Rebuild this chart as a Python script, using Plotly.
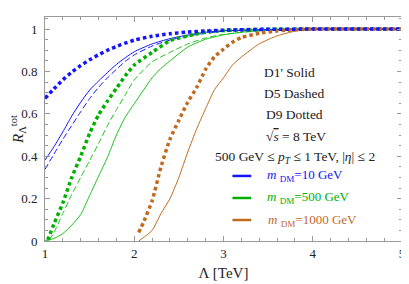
import plotly.graph_objects as go

# ---------------- data ----------------
# Blue: m_DM = 10 GeV
blue_solid_x = [1.0, 1.1, 1.2, 1.3, 1.4, 1.5, 1.6, 1.7, 1.8, 1.9, 2.0, 2.2, 2.4, 2.6, 2.8, 3.0, 3.5, 4.0, 5.0]
blue_solid_y = [0.382, 0.445, 0.515, 0.59, 0.655, 0.712, 0.755, 0.795, 0.833, 0.865, 0.893, 0.93, 0.955, 0.972, 0.985, 0.992, 0.998, 1.0, 1.0]
blue_dash_x = [1.0, 1.1, 1.2, 1.3, 1.4, 1.5, 1.6, 1.7, 1.8, 1.9, 2.0, 2.2, 2.4, 2.6, 2.8, 3.0, 3.5, 4.0, 5.0]
blue_dash_y = [0.338, 0.41, 0.48, 0.545, 0.61, 0.672, 0.725, 0.77, 0.81, 0.848, 0.878, 0.92, 0.948, 0.967, 0.98, 0.99, 0.998, 1.0, 1.0]
blue_dot_x = [1.0, 1.1, 1.2, 1.3, 1.4, 1.5, 1.6, 1.7, 1.8, 1.9, 2.0, 2.2, 2.4, 2.6, 2.8, 3.0, 3.5, 4.0, 5.0]
blue_dot_y = [0.673, 0.718, 0.76, 0.797, 0.828, 0.855, 0.879, 0.9, 0.918, 0.934, 0.948, 0.966, 0.978, 0.986, 0.991, 0.995, 0.999, 1.0, 1.0]

# Green: m_DM = 500 GeV
green_solid_x = [1.0, 1.1, 1.2, 1.3, 1.4, 1.5, 1.6, 1.7, 1.8, 1.9, 2.0, 2.1, 2.2, 2.3, 2.4, 2.6, 2.8, 3.0, 3.2, 3.5, 4.0, 5.0]
green_solid_y = [0.0, 0.012, 0.035, 0.075, 0.125, 0.215, 0.305, 0.395, 0.5, 0.585, 0.648, 0.71, 0.77, 0.815, 0.85, 0.915, 0.952, 0.973, 0.985, 0.995, 1.0, 1.0]
green_dash_x = [1.05, 1.1, 1.2, 1.3, 1.4, 1.5, 1.6, 1.7, 1.8, 1.9, 2.0, 2.2, 2.4, 2.6, 2.8, 3.0, 3.5, 4.0, 5.0]
green_dash_y = [0.005, 0.04, 0.13, 0.22, 0.3, 0.38, 0.46, 0.545, 0.62, 0.69, 0.76, 0.845, 0.89, 0.93, 0.958, 0.975, 0.995, 1.0, 1.0]
green_dot_x = [1.03, 1.1, 1.2, 1.3, 1.4, 1.5, 1.6, 1.7, 1.8, 1.9, 2.0, 2.2, 2.4, 2.6, 2.8, 3.0, 3.5, 4.0, 5.0]
green_dot_y = [0.005, 0.08, 0.18, 0.3, 0.4, 0.508, 0.595, 0.66, 0.72, 0.78, 0.83, 0.89, 0.945, 0.968, 0.985, 0.993, 0.999, 1.0, 1.0]

# Brown: m_DM = 1000 GeV
brown_solid_x = [2.05, 2.1, 2.2, 2.3, 2.4, 2.5, 2.6, 2.7, 2.8, 2.9, 3.0, 3.1, 3.2, 3.4, 3.6, 3.8, 4.0, 4.5, 5.0]
brown_solid_y = [0.0, 0.015, 0.05, 0.13, 0.2, 0.3, 0.42, 0.53, 0.625, 0.715, 0.77, 0.83, 0.868, 0.93, 0.968, 0.99, 0.998, 1.0, 1.0]
brown_dot_x = [2.05, 2.1, 2.2, 2.3, 2.4, 2.5, 2.6, 2.7, 2.8, 2.9, 3.0, 3.1, 3.2, 3.4, 3.6, 3.8, 4.0, 4.5, 5.0]
brown_dot_y = [0.04, 0.085, 0.19, 0.35, 0.48, 0.57, 0.655, 0.725, 0.81, 0.87, 0.905, 0.938, 0.96, 0.98, 0.991, 0.997, 1.0, 1.0, 1.0]

x_ticks = [1, 2, 3, 4, 5]
y_ticks = [0, 0.2, 0.4, 0.6, 0.8, 1]
y_tick_labels = ["0", "0.2", "0.4", "0.6", "0.8", "1"]

BLUE = "#1414ff"
GREEN = "#22c022"
GREEN_DOT = "#00b000"
BROWN = "#bf6a1f"
FONT = "Liberation Serif"
TXT = "#222222"

fig = go.Figure()

def add(x, y, color, width, dash):
    fig.add_trace(go.Scatter(x=x, y=y, mode="lines", showlegend=False,
                             line=dict(color=color, width=width, dash=dash, shape="spline", smoothing=0.6),
                             hoverinfo="skip"))

add(green_solid_x, green_solid_y, GREEN, 1, "solid")
add(green_dash_x, green_dash_y, GREEN, 1, "6px,3px")
add(brown_solid_x, brown_solid_y, BROWN, 1, "solid")
add(blue_solid_x, blue_solid_y, BLUE, 1, "solid")
add(blue_dash_x, blue_dash_y, BLUE, 1, "6px,3px")
add(green_dot_x, green_dot_y, GREEN_DOT, 3.5, "3.5px,3px")
add(brown_dot_x, brown_dot_y, BROWN, 3.5, "3.5px,3px")
add(blue_dot_x, blue_dot_y, BLUE, 3.5, "3.5px,3px")

axis_common = dict(
    showgrid=False, zeroline=False, showline=True, linecolor="#999999", linewidth=1,
    mirror="ticks", ticks="inside", ticklen=5, tickcolor="#999999", tickwidth=1,
    tickfont=dict(family=FONT, size=13, color=TXT), ticklabeloverflow="allow",
)

fig.update_xaxes(range=[1, 5], tickvals=x_ticks, ticktext=[str(v) for v in x_ticks],
                 minor=dict(dtick=0.2, ticks="inside", ticklen=3, tickcolor="#999999", showgrid=False),
                 title=dict(text="Λ [TeV]", font=dict(family=FONT, size=15, color=TXT), standoff=7),
                 automargin=True, **axis_common)
fig.update_yaxes(range=[0, 1.057], tickvals=y_ticks, ticktext=y_tick_labels,
                 minor=dict(dtick=0.05, ticks="inside", ticklen=3, tickcolor="#999999", showgrid=False),
                 ticklabelstandoff=4, automargin=False,
                 title=dict(text="<i>R</i><sub>Λ</sub><sup>tot</sup>", font=dict(family=FONT, size=15, color=TXT), standoff=11),
                 **axis_common)

tf = dict(family=FONT, size=13.5, color=TXT)
texts = [
    (3.74, 0.797, "D1' Solid"),
    (3.79, 0.698, "D5 Dashed"),
    (3.79, 0.599, "D9 Dotted"),
    (3.81, 0.495, "√<span style='text-decoration:overline'><i>s</i></span> = 8 TeV"),
    (3.80, 0.396, "500 GeV ≤ <i>p</i><sub><i>T</i></sub> ≤ 1 TeV, |<i>η</i>| ≤ 2"),
]
for x, y, t in texts:
    fig.add_annotation(x=x, y=y, text=t, showarrow=False, font=tf, xanchor="center", yanchor="middle")

legend_items = [
    (0.307, 3.91, BLUE, "<i>m</i> <sub>DM</sub>=10 GeV"),
    (0.203, 3.956, GREEN_DOT, "<i>m</i> <sub>DM</sub>=500 GeV"),
    (0.099, 4.0, BROWN, "<i>m</i> <sub>DM</sub>=1000 GeV"),
]
for y, xc, col, t in legend_items:
    fig.add_shape(type="line", x0=3.1, x1=3.311, y0=y, y1=y, line=dict(color=col, width=2.5))
    fig.add_annotation(x=xc, y=y, text=t, showarrow=False,
                       font=dict(family=FONT, size=13, color=col), xanchor="center", yanchor="middle")

# the page body has an 8px default margin, so the figure is made 8px smaller
fig.update_layout(
    width=401, height=276,
    margin=dict(l=37, r=4, t=9, b=43),
    plot_bgcolor="white", paper_bgcolor="white",
)

fig.write_html("out.html")
